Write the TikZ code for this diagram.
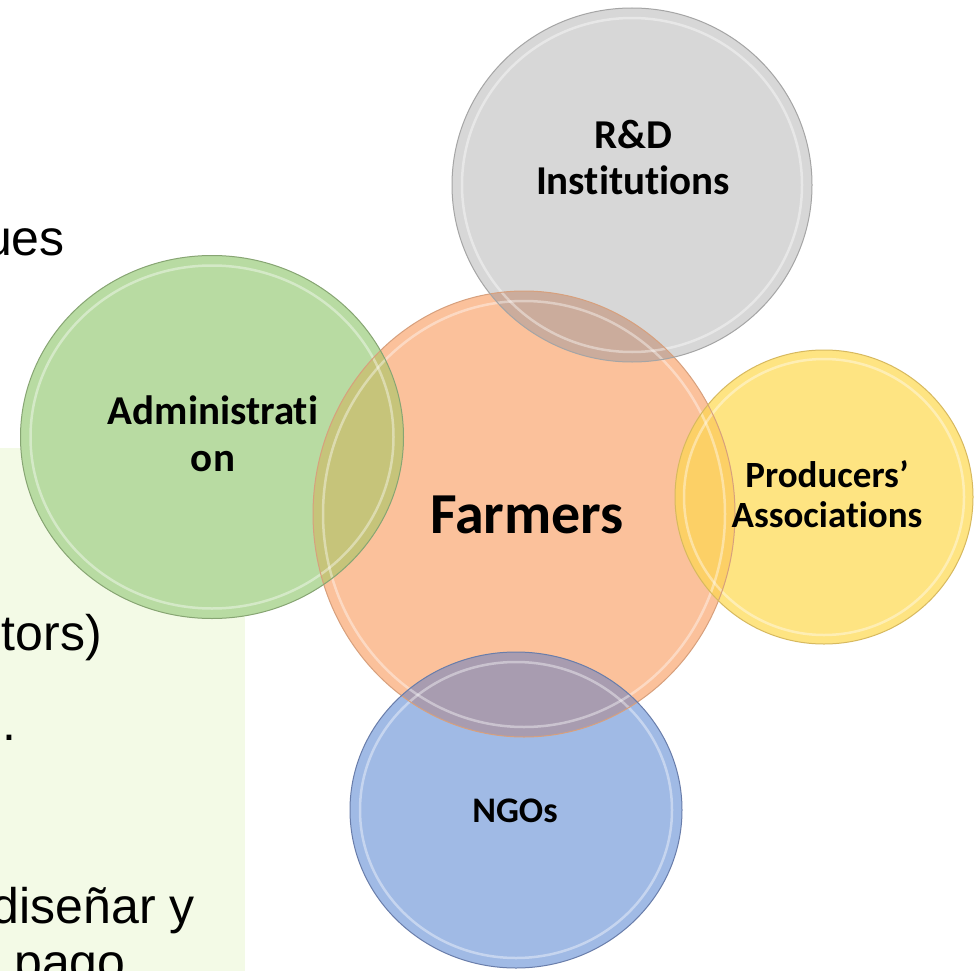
\documentclass[tikz,border=0pt]{standalone}
\usepackage{fontspec}
\newfontfamily\calibrifont{Carlito}[Ligatures=NoCommon]
\newfontfamily\arialfont{Liberation Sans}
\usetikzlibrary{shapes.geometric}
\definecolor{bgbox}{RGB}{243,250,230}
\definecolor{graybub}{RGB}{215,215,215}
\definecolor{grayedge}{RGB}{165,165,165}
\definecolor{greenbub}{RGB}{184,219,162}
\definecolor{greenedge}{RGB}{135,165,115}
\definecolor{orangebub}{RGB}{251,193,155}
\definecolor{orangeedge}{RGB}{215,160,125}
\definecolor{yellowbub}{RGB}{254,228,130}
\definecolor{yellowedge}{RGB}{215,185,95}
\definecolor{bluebub}{RGB}{160,186,229}
\definecolor{blueedge}{RGB}{105,125,170}
\definecolor{lensgray}{RGB}{203,172,156}
\definecolor{lensgreen}{RGB}{198,196,122}
\definecolor{lensyellow}{RGB}{252,208,102}
\definecolor{lensblue}{RGB}{168,156,176}
\tikzset{
  bub/.style={ellipse, inner sep=0pt, outer sep=0pt, line width=1pt},
  rim/.style={draw=white, draw opacity=0.4, line width=2.5pt},
  lab/.style={inner sep=0pt, align=center, text=black},
  side/.style={inner sep=0pt, text=black, font=\arialfont\fontsize{50}{58}\selectfont}
}
\begin{document}
\begin{tikzpicture}[x=1pt,y=-1pt]
\useasboundingbox (0,0) rectangle (974,971);
\clip (0,0) rectangle (974,971);
\fill[white] (0,0) rectangle (974,971);
\fill[bgbox] (0,448) rectangle (245,971);

% side text fragments
\node[side, anchor=base east] (t1) at (65,255) {ues};
\node[side, anchor=base east] (t2) at (102,650) {tors)};
\node[side, anchor=base west] (t3) at (2,740) {.};
\node[side, anchor=base east] (t4) at (195,923) {diseñar y};
\node[side, anchor=base west] (t5) at (14,979) {pago};

% bubbles
\node[bub, fill=orangebub, minimum width=422pt, minimum height=446pt] (farmers) at (524,514) {};
\node[bub, fill=graybub, minimum width=360pt, minimum height=354pt] (rnd) at (632,185) {};
\node[bub, fill=greenbub, minimum width=383pt, minimum height=363pt] (admin) at (212,437) {};
\node[bub, fill=yellowbub, minimum width=298pt, minimum height=294pt] (prod) at (824,497) {};
\node[bub, fill=bluebub, minimum width=332pt, minimum height=316pt] (ngo) at (516,810) {};

% overlaps with the central bubble
\begin{scope}
\clip (farmers.center) ellipse [x radius=211pt, y radius=223pt];
\fill[lensgray] (rnd.center) ellipse [x radius=180pt, y radius=177pt];
\fill[lensgreen] (admin.center) ellipse [x radius=191.5pt, y radius=181.5pt];
\fill[lensyellow] (prod.center) ellipse [x radius=149pt, y radius=147pt];
\fill[lensblue] (ngo.center) ellipse [x radius=166pt, y radius=158pt];
\end{scope}

% rims
\draw[rim] (farmers.center) ellipse [x radius=201pt, y radius=213pt];
\draw[rim] (rnd.center) ellipse [x radius=170pt, y radius=167pt];
\draw[rim] (admin.center) ellipse [x radius=181.5pt, y radius=171.5pt];
\draw[rim] (prod.center) ellipse [x radius=140pt, y radius=138pt];
\draw[rim] (ngo.center) ellipse [x radius=156pt, y radius=148pt];

% outlines
\draw[orangeedge, line width=1pt] (farmers.center) ellipse [x radius=211pt, y radius=223pt];
\draw[grayedge, line width=1pt] (rnd.center) ellipse [x radius=180pt, y radius=177pt];
\draw[greenedge, line width=1pt] (admin.center) ellipse [x radius=191.5pt, y radius=181.5pt];
\draw[yellowedge, line width=1pt] (prod.center) ellipse [x radius=149pt, y radius=147pt];
\draw[blueedge, line width=1pt] (ngo.center) ellipse [x radius=166pt, y radius=158pt];

% labels
\node[lab, font=\calibrifont\bfseries\fontsize{41}{46}\selectfont] (rndlab) at (633,157) {R\&D\\Institutions};
\node[lab, font=\calibrifont\bfseries\fontsize{41}{47}\selectfont] (adminlab) at (213,434) {Administrati\\on};
\node[lab, font=\calibrifont\bfseries\fontsize{58}{62}\selectfont, anchor=base] (farmlab) at (527,533) {Farmers};
\node[lab, font=\calibrifont\bfseries\fontsize{37}{40}\selectfont] (prodlab) at (827,494) {Producers’\\Associations};
\node[lab, font=\calibrifont\bfseries\fontsize{36}{40}\selectfont, anchor=base] (ngolab) at (515,822) {NGOs};
\end{tikzpicture}
\end{document}
